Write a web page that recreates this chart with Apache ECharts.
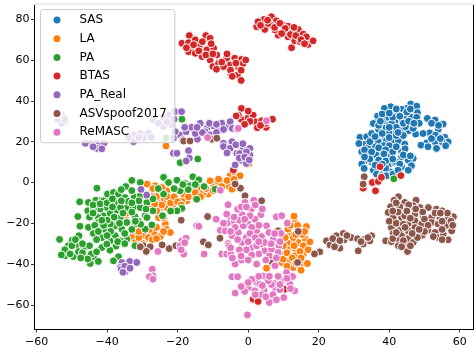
<!DOCTYPE html>
<html><head><meta charset="utf-8">
<script src="https://cdn.jsdelivr.net/npm/echarts@6/dist/echarts.min.js"></script>
<style>html,body{margin:0;padding:0;background:#fff}#c{width:476px;height:348px}</style></head>
<body><div id="c"></div>
<script>
const names = ['SAS','LA','PA','BTAS','PA_Real','ASVspoof2017','ReMASC'];
const colors = ['#1f77b4','#ff7f0e','#2ca02c','#d62728','#9467bd','#8c564b','#e377c2'];
const xTicks = [-60,-40,-20,0,20,40,60];
const yTicks = [-60,-40,-20,0,20,40,60,80];
const SAS = [[46.1,38.4],[40.4,37.1],[38.6,36.3],[44.9,36.3],[43.5,35.8],[47.8,37.4],[42.1,33.8],[44.4,33],[48,34.2],[37.4,33],[39.5,31.9],[36.7,32.5],[36.1,29.2],[35.5,28.9],[39.7,28.1],[43,30.2],[46.3,31.9],[47.8,31.9],[41.6,29.7],[40.7,28.9],[38.6,26.5],[41.1,24.8],[36.4,24],[38.8,22.1],[45.4,25.3],[43.5,25.7],[47.5,23.7],[44.6,27.3],[46.8,26.5],[50.8,31.4],[53,30.6],[55.3,28.6],[53.9,26],[51.5,24.3],[49.6,24],[53.1,23.2],[55.8,22.1],[56.7,19.9],[53,19.9],[50.6,19.4],[49,18.3],[55,19.9],[53.4,16.7],[31.7,22.1],[33.6,22.4],[35.3,21.1],[33.3,18.8],[31.4,19.1],[36.9,19.9],[39.2,20.4],[41.1,20.8],[42.6,20.4],[44.4,18.8],[38.5,18.1],[41.1,16.7],[43.5,15],[37.8,15],[36.1,17.5],[34,13.7],[32.2,15],[36.4,13.4],[40.5,12.9],[43.5,12.6],[46.8,11.8],[45.4,10.9],[46.3,8.2],[33.1,10.6],[32.2,9],[32.9,6.9],[35.5,6],[40.2,9.3],[41.6,9.6],[43.5,7.7],[45.4,6],[40.2,5.2],[37.8,4.4],[38,30],[42,27],[40,24],[37,26],[44,29],[35,24],[40,18],[34,17],[38,12],[35,10],[42,10],[39,7],[36.4,4.1],[37.8,3.3],[39.2,3.3],[41.1,4.1],[34.5,20],[36,22.5],[38,24],[40,22],[42,23],[44,23],[37,17],[39,16],[41,15],[33,16],[35,15],[38.5,14],[42,17.5],[44.5,16.5],[37,11],[39,10.5],[36,8.5],[41,11.5],[43,9],[38,9],[42.5,6],[37,28],[38,33.5],[41,32],[43,32.5],[45.5,30],[45,34.5],[46,36],[42,36],[40,34],[48.5,29],[47,29],[37.5,30],[40,27],[42.5,24.5],[52,29],[54,28],[52,21.5],[51,17.5],[54.5,21.5],[56,18],[34.5,11.5],[33,12.5],[44,13.5],[46,13]];
const LA = [[-23.3,17.9],[0.2,9.3],[-28.7,-0.8],[-26.4,-1.6],[-27.3,-5.7],[-25,-5.7],[-23.1,-4.1],[-22.1,-7.4],[-24,-9],[-25.9,-9],[-21.2,-10.6],[-23.1,-12.3],[-25,-12.3],[-27.8,-12.3],[-35.8,-15.5],[-34.9,-17],[-23.5,-20.4],[-25.4,-17.2],[-28.7,-16.3],[-23.2,-22.9],[-22.1,-24.5],[-26.7,-24.8],[-29.7,-25.8],[-28.3,-27],[-24.9,-26.5],[-32.5,-24.5],[-33,-27],[-32,-29.4],[-30.6,-22],[-27.2,-28],[-29.7,-30],[-17.4,-9],[-16,-6.5],[-14.1,-2.9],[-11.3,-5.7],[-12.7,-4.9],[-8.9,-0.8],[-10.8,0.8],[-7,0],[-5.6,-1.6],[-4.6,-3.3],[-5.1,3.3],[-3.7,4.1],[-2.3,3.3],[-15.5,-4.1],[-18.8,-9],[-18.3,-5.7],[-8.4,1.6],[-9.8,-2.5],[-25.9,-13.9],[-24,-17.2],[13,-18.8],[11.3,-19.6],[16.5,-21.6],[14.7,-23.7],[11.8,-25.8],[16.1,-27.3],[17.5,-29.1],[12.3,-29.4],[14.2,-29.4],[15.6,-31],[11.3,-32.7],[13.2,-32.2],[10.4,-35.2],[9.5,-39.2],[11.3,-38.9],[12.8,-41.7],[15.1,-38.4],[16.8,-39.7],[14.7,-41.3],[13.2,-35.9],[15.6,-35.1],[11.3,-22.9],[5.2,-42],[9.9,-37.6],[12.8,-27],[11.1,-29.4],[14.7,-33.8],[-27,-3],[-24.5,-2.5],[-26,-7],[-23,-7],[-22,-10],[-24.5,-11],[-26.5,-10.5],[-21,-7],[-20,-9.5],[-19,-11],[-17,-7],[-15,-5],[-13.5,-7],[-12,-3],[-10,-4],[-7.5,-2],[-6,1],[-4,1.5],[-26,-22],[-24,-24],[-28,-23],[-31,-27],[-26,-27.5],[-34.5,-15],[-31,-24],[-33,-22.5],[12,-21],[14,-21],[15.5,-25.5],[13.5,-25.5],[10.5,-27],[13,-31],[11,-34.5],[15,-37],[12.5,-37],[13.5,-39.5],[11,-41],[17,-33],[16,-24],[10,-31],[15,-43],[13,-16.5]];
const PA = [[-53.5,-27.9],[-47.8,-9.5],[-42.9,-2.8],[-48.3,-16.7],[-47.7,-21.4],[-45.3,-9.8],[-43.2,-8.7],[-45.5,-13.9],[-41.5,-8.7],[-39.9,-5.7],[-38.2,-4.9],[-36.8,-5.7],[-34.7,-2],[-34.9,-7.4],[-32.3,-7],[-30.6,-6.5],[-28.7,-9.8],[-27,-13.9],[-29.2,-16.3],[-32.1,-16.8],[-34.4,-12.3],[-37.2,-13.5],[-40.1,-12.3],[-41,-16.3],[-42.5,-17.2],[-45.3,-22],[-43.9,-25],[-42.5,-19.6],[-40.4,-23.2],[-37.7,-21.2],[-37.7,-26.1],[-35.8,-22.9],[-34.4,-19.6],[-32.1,-20.4],[-29.2,-22.9],[-27.3,-20.8],[-28.7,-17.2],[-34.4,-27.8],[-32.1,-31],[-37.5,-31.2],[-39.2,-28.6],[-39.2,-33.2],[-41.5,-31.9],[-40.1,-30.2],[-41.5,-27],[-49.9,-28.3],[-48,-26.1],[-51,-31],[-48.6,-30.6],[-46.7,-32.2],[-45,-31],[-51.9,-35.9],[-49.6,-36.3],[-46.5,-36.3],[-43.8,-36.4],[-44.8,-39.7],[-42.5,-38.7],[-51,-33.5],[-48.1,-33.9],[-44.5,-35.1],[-36.8,-36.4],[-38.2,-38.4],[-24,2.5],[-20.2,1.1],[-22.6,0],[-17.9,-0.5],[-15.7,2.8],[-14,1.3],[-19.3,-4.1],[-16.5,-1.6],[-14.6,-8.2],[-18.8,-12.7],[-20.2,-13.9],[-24.3,-16.3],[-24,-5.7],[-28.7,-5.7],[-30.6,0],[-9.4,-3.3],[-34,-9.3],[-32.5,-12.3],[-37.7,-9.8],[-39.1,-15.2],[-36.3,-17.2],[-30.6,-12.3],[-31.1,-19.1],[-36.2,-12.3],[-39.1,-20.4],[-41,-9],[-42,-13],[-43.9,-13],[-36.3,-28.6],[-18.8,31],[-19.3,9.7],[-14.3,11.5],[-23.3,21.7],[41.3,1.8],[-1.9,19],[-44,-11],[-42,-10.5],[-40,-10],[-38.5,-8],[-36,-9],[-33,-4],[-31,-9],[-29,-13],[-33,-14.5],[-35.5,-15],[-38,-17],[-40,-18.5],[-43.5,-21],[-41,-21],[-39,-24],[-36.5,-20],[-35,-25],[-33,-23],[-30.5,-20.5],[-43,-28],[-40,-26],[-37,-29],[-35,-30],[-42.5,-24],[-45,-17],[-44,-15],[-50,-31],[-52,-33],[-47,-30],[-49,-28],[-47,-34.5],[-45.5,-37.5],[-43,-34],[-50.5,-35],[-53,-35.5],[-47.5,-37],[-41.5,-18.5],[-38.5,-12],[-33,-10],[-32,-19],[-27,-8],[-25.5,-3],[-21,-3],[-17,-3.5],[-18.5,-1],[-15,-1],[-12.5,-2],[-22,-14],[-33,1],[-36,-3.5]];
const BTAS = [[-18.8,68.2],[-16.7,72],[-16.9,68.5],[-15,69.9],[-12,72],[-10.8,70.7],[-15.7,65.8],[-13.9,66.6],[-16.9,64.1],[-15,63.3],[-11.7,65],[-9.8,65.8],[-8.9,62.5],[-10.8,60],[-13.1,61.7],[-10,56.8],[-8.4,58.4],[-6.1,60.9],[-3.8,60.9],[-5.1,57.6],[-7,56.8],[-4.9,52.7],[-3,52.7],[-2.3,57.6],[-1.9,60.3],[-2.8,56.7],[-1.4,58.3],[2.4,76.3],[4.5,79.9],[6.6,81.2],[8,79.2],[4.7,75],[2.8,78.8],[6.6,77.1],[8.5,72.2],[9.9,77.1],[12.3,74.7],[11.3,76.6],[14.2,75],[15.6,72.7],[13.2,69.4],[17,67.6],[18.4,69.4],[12.3,66],[11.3,71.4],[14.7,69],[16.5,71.4],[7.6,74.7],[10.4,73.9],[5.7,77.9],[-1.9,36.3],[-1.9,30.9],[0,31.7],[1.4,33],[2.1,29.7],[3.8,30.2],[6.9,31],[2.6,26.8],[5.1,27],[-2.8,33],[-3.4,32.6],[37.4,7.7],[43.3,3.4],[35.2,0],[36.9,0.5],[36.1,-4.1],[32.6,-2.8],[37.8,2.5],[3.8,-29.9],[-1.4,-50.7],[1.4,-57.2],[2.8,-58.3],[10.4,-52.3],[-4.2,6.1],[-17.5,66],[-15.5,67.5],[-14,64.5],[-13,69],[-10.5,68],[-12,62.5],[-10,63],[-7.5,59],[-6,63],[-9,55.5],[-5,55],[-2,55],[-0.7,60],[-3.5,58.5],[-4.5,52],[-2,50],[3.5,77],[5.5,79.5],[7.5,76],[9,78],[10.5,75.5],[12,72.5],[13.5,72],[15,70],[13,76],[16,68],[9.5,73],[0,35],[0.5,30],[5,29],[3.5,28],[-1,28.5]];
const PA_Real = [[-52.9,33.1],[-51.9,29.8],[-52.9,29],[-44.8,19.2],[-42.9,19.2],[-42.9,16.7],[-40.9,19.2],[-46.2,19.2],[-32.5,23.3],[-30.6,24.1],[-28.3,24.1],[-29.7,21.7],[-26.9,30.6],[-24,31.5],[-22.2,33.1],[-20.8,34.7],[-18.9,34.7],[-24,27.4],[-21.7,28.2],[-32.5,20],[-19.3,23.3],[-17.6,24.9],[-16,27],[-13.6,29],[-11.7,26.6],[-9.8,27.7],[-6,27.4],[-5.1,29.8],[-7.5,29],[-8,25.7],[-20.7,24.9],[-21.2,14.3],[-20.2,14.3],[-16.9,15.6],[-16.7,11.9],[-17.6,10.5],[-14.4,21.2],[-21.2,21.7],[-7,19.2],[-4.6,20],[-7,17.6],[-5.1,16.7],[-3.2,14.3],[-3.7,8.6],[-12.2,24.9],[-10.8,23.3],[-1.4,16.7],[0.5,16.7],[-2.4,14.2],[0.5,13.4],[-1.9,10.9],[-0.5,9.3],[-30.4,-3.4],[-28.8,-6.2],[-35.8,-39.2],[-34.4,-40.8],[-33.6,-38.7],[-31.6,-39.2],[-36.3,-41.7],[-34.9,-43.8],[-25.5,29],[-23,29.5],[-21,31],[-52,31],[-54,31],[-41.5,16.5],[-44,17.5],[-31,22],[-27.5,22],[-34,22],[-18,27],[-15,24],[-13,24.5],[-11,29],[-9,24.5],[-7,26],[-4.5,26.5],[-14.5,27],[-18.5,21],[-6,14.5],[-3.5,18.5],[-1.5,19],[-0.5,15],[-2.5,12],[-1,12.5],[0.3,11],[-36,-42.5],[-35,-41],[-33.5,-42],[-35.5,-44],[-9,28.5]];
const ASV = [[42.6,-7],[41.4,-8.7],[44.4,-9.8],[47.6,-8.7],[40.4,-11.9],[46.8,-11.4],[51.1,-12.3],[48.7,-12.3],[53.4,-13.1],[55,-13.9],[39.7,-14.7],[41.1,-17.2],[43.5,-17.2],[47.3,-15.5],[58.2,-16.8],[56.7,-17.2],[54.4,-17.2],[52,-17.2],[49.6,-16.3],[45.4,-20.1],[47.3,-18.8],[49.2,-20.4],[52,-19.6],[53.9,-20.4],[56.3,-20.9],[40.6,-22.1],[43,-23.4],[45.4,-23.7],[47.3,-22.1],[51,-23.4],[53,-24.5],[57.7,-23.7],[41.1,-25],[43.5,-26.1],[49.4,-25.8],[53.9,-27],[56.7,-28.1],[39,-28.6],[40.6,-29],[42.6,-28.6],[45.4,-27.5],[46.8,-29.4],[44.4,-31],[45.2,-33.8],[42.6,-31],[55.3,-25.3],[44.4,-16.3],[22.2,-28.6],[25,-26.1],[27,-25],[29.2,-27],[27.2,-28.1],[31,-27.6],[23.2,-30.6],[26,-32.2],[25,-30.2],[33.1,-27.8],[35,-26.1],[34.5,-28.6],[32.6,-30.2],[31.2,-33.5],[20.3,-34],[18.8,-35],[14.2,-24],[8.5,-23.7],[14,-39.2],[6.6,-38.7],[3.8,-9],[-0.9,-6.5],[-2.2,-2.8],[32.9,2.8],[32.6,-0.8],[-19,-18.5],[-11.5,-16.7],[-8,-27.3],[-12.7,-29.1],[-11.3,-30.6],[-29.7,-31],[-27.8,-31.5],[-28.9,-33.8],[-24.4,-30.6],[-22.4,-32.4],[-20.5,-31],[-30.6,-31.5],[-3.7,-0.8],[-18.3,20.3],[-16.5,20.3],[-10.3,21.2],[-8.9,21.7],[43,-12],[45.5,-11],[42,-10],[47.5,-13],[49.5,-14.5],[53,-15],[56.5,-15],[45,-14],[42.5,-14.5],[41,-14],[40,-19],[42,-20],[44,-20.5],[46,-17.5],[50,-18],[51,-21],[55,-19],[57.5,-19],[58,-21],[55,-23],[52.5,-26.5],[50,-24],[48,-27],[44,-28.5],[41,-27.5],[42,-24.5],[46.5,-25],[44.5,-22],[48.5,-23],[43.5,-31.5],[46,-31],[54.5,-15],[55,-28],[24,-27.5],[26,-28.5],[28,-26],[32,-29],[34,-27],[24.5,-31.5]];
const ReMASC = [[-0.9,-9.8],[1.6,-8.7],[0.9,-13.1],[-1.7,-15.8],[3.6,-15.8],[1.9,-18],[0,-20.4],[-1.4,-21.2],[5.2,-21.2],[2.4,-23.7],[3.8,-26.5],[5.9,-24.5],[7.1,-27.8],[-1.7,-29.4],[0.9,-31.9],[2.4,-31],[4.7,-33.5],[6.6,-32.7],[8.7,-31],[8.5,-34.3],[-1.9,-38],[2.4,-40],[7.6,-40.8],[8,-16.8],[9.5,-16.3],[11.1,-19.9],[9.3,-25],[-2.8,-24.5],[0.5,-16.3],[-0.5,-27],[4.7,-29.4],[4.2,-45.8],[2.4,-49],[0,-51.5],[-1,-53.4],[1.9,-53.1],[4.5,-52.8],[7.4,-49.5],[9.5,-48.2],[11.8,-49.8],[13.2,-53.1],[10.9,-44.1],[12.6,-46.1],[7.8,-52.8],[10.1,-56.4],[6,-58.8],[3.8,-55.1],[6.6,-50],[9,-52.5],[5.7,-48.2],[-0.2,-64.9],[3.3,-49.8],[-14.6,-21.2],[-18.8,-28.6],[-17.6,-27.3],[-19.3,-31],[-18.3,-35.1],[-25.6,-33.8],[-12.5,-35.1],[-27.2,-42.5],[-27,-45.7],[-28,-46.2],[-27,-47.4],[-7.9,-3.8],[-5.7,-10.9],[-9.1,-18],[-7.9,-23.4],[-6.5,-23.7],[-5.1,-17.2],[-6.1,-15.5],[-3,-13.1],[-4.2,-19.6],[-3.7,-22],[-4.6,-26.1],[-5.7,-29.9],[-7.5,-35.1],[-6.1,-35.1],[-4.9,-35.1],[-3.7,-40],[-4.6,-46.2],[-3,-46.2],[-3.7,-54.2],[-11.5,22],[-3.2,26.1],[5.2,30.2],[-2.8,26.5],[-2,-12],[-0.5,-12],[2,-11],[4,-13],[3,-21],[1,-22],[-2.5,-18.5],[-1,-18],[0.5,-25],[2,-27],[-3,-28],[0,-29],[3,-29],[6.5,-30],[7.5,-25],[6,-36],[3,-35],[1,-35.5],[-0.5,-33],[-2.5,-33],[-2,-36],[5,-38],[8,-37],[9,-29],[0,-38],[1,-47.5],[3,-46],[6,-46],[8.5,-46],[0,-49],[-2,-51],[2,-55],[5,-56],[7,-55],[9,-50],[11,-47],[12,-52],[8,-57.5],[4,-50.5],[-5,-24],[-6,-20],[-4,-17],[-7,-20],[-5.5,-31],[-5,-32],[-19,-33],[-18,-29.5],[-14,-21.5],[-4.5,-37]];
const seriesData = [SAS,LA,PA,BTAS,PA_Real,ASV,ReMASC];
const chart = echarts.init(document.getElementById('c'),null,{renderer:'canvas'});
const xRange = {min:-60.6,max:63.9}, yRange = {min:-71.8,max:87.7};
const fmt = v => String(v).replace('-','\u2212');
const black = {color:'#000',width:1};
const hide = {axisTick:{show:false},axisLabel:{show:false},splitLine:{show:false}};
const mainAxis = (ticks,margin,pad) => ({type:'value',interval:20,splitLine:{show:false},
  axisLine:{show:true,onZero:false,lineStyle:black},
  axisTick:{show:true,length:3.5,lineStyle:{color:'#000',width:0.8},customValues:ticks},
  axisLabel:{margin:margin,formatter:fmt,customValues:ticks,padding:pad,fontFamily:'DejaVu Sans',fontSize:11,color:'#000'}});
chart.setOption({
  animation:false,
  backgroundColor:'#fff',
  grid:{left:34.5,right:2.5,top:3.5,bottom:18.5,show:false,containLabel:false},
  xAxis:[Object.assign(mainAxis(xTicks,8,0),xRange,{position:'bottom'}),
         Object.assign({type:'value',position:'top',axisLine:{show:true,onZero:false,lineStyle:{color:'#eeeeee',width:2}}},xRange,hide)],
  yAxis:[Object.assign(mainAxis(yTicks,5,[2,0,0,0]),yRange,{position:'left'}),
         Object.assign({type:'value',position:'right',axisLine:{show:true,onZero:false,lineStyle:black}},yRange,hide)],
  legend:{left:40.5,top:9.5,orient:'vertical',padding:[4,8,4,11],itemGap:5.7,itemWidth:9,itemHeight:9,icon:'circle',
    backgroundColor:'rgba(255,255,255,0.8)',borderColor:'#ccc',borderWidth:1,borderRadius:3,
    textStyle:{fontFamily:'DejaVu Sans',fontSize:12,color:'#000',lineHeight:13,padding:[0,0,0,13]},
    data:names},
  series:names.map((n,i)=>({name:n,type:'scatter',xAxisIndex:0,yAxisIndex:0,data:seriesData[i],symbolSize:8,z:2,
    itemStyle:{color:colors[i],borderColor:'#fff',borderWidth:1,opacity:1}}))
});
</script></body></html>
